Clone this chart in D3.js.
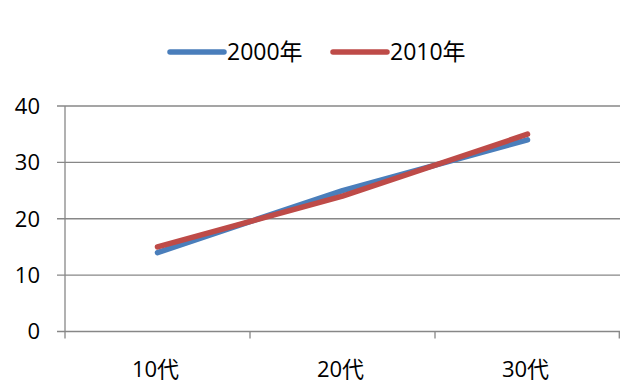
<!DOCTYPE html>
<html>
<head>
<meta charset="utf-8">
<script src="https://cdn.jsdelivr.net/npm/d3@7"></script>
<style>
  body { margin: 0; background: #fff; }
  svg text { font-family: 'Open Sans', 'Noto Sans CJK JP', sans-serif; fill: #000; }
</style>
</head>
<body>
<div class="canvas"></div>
<script>
// chart data
const categories = ['10代', '20代', '30代'];
const seriesNames = ['2000年', '2010年'];
const values2000 = [14, 25, 34];
const values2010 = [15, 24, 35];
const yTicks = [0, 10, 20, 30, 40];

const colors = ['#4a7ebb', '#be4b48'];
const series = [
    { name: seriesNames[0], values: values2000, color: colors[0] },
    { name: seriesNames[1], values: values2010, color: colors[1] }
];

const width = 620;
const height = 385;

const svg = d3.select('.canvas')
    .append('svg')
    .attr('width', width)
    .attr('height', height);

// plot area
const plot = { left: 65, right: 620, top: 106, bottom: 331.5 };

const x = d3.scaleBand()
    .domain(categories)
    .range([plot.left, plot.right])
    .padding(0);

const y = d3.scaleLinear()
    .domain([0, 40])
    .range([plot.bottom, plot.top]);

// gridlines
svg.append('g')
    .selectAll('line')
    .data(yTicks)
    .enter()
    .append('line')
    .attr('x1', plot.left - 8)
    .attr('x2', plot.right)
    .attr('y1', d => y(d))
    .attr('y2', d => y(d))
    .attr('stroke', '#878787')
    .attr('stroke-width', 1.3);

// y axis line
svg.append('line')
    .attr('x1', plot.left).attr('x2', plot.left)
    .attr('y1', plot.top).attr('y2', plot.bottom + 7)
    .attr('stroke', '#878787')
    .attr('stroke-width', 1.3);

// y tick labels
svg.append('g')
    .selectAll('text')
    .data(yTicks)
    .enter()
    .append('text')
    .attr('x', 40)
    .attr('y', d => y(d))
    .attr('dy', '0.36em')
    .attr('text-anchor', 'end')
    .attr('font-size', 22)
    .text(d => d);

// x axis ticks
const xEdges = categories.map(c => x(c) + x.bandwidth());
svg.append('g')
    .selectAll('line')
    .data(xEdges)
    .enter()
    .append('line')
    .attr('x1', d => Math.min(d, plot.right - 0.7))
    .attr('x2', d => Math.min(d, plot.right - 0.7))
    .attr('y1', plot.bottom)
    .attr('y2', plot.bottom + 7)
    .attr('stroke', '#878787')
    .attr('stroke-width', 1.3);

// x labels
svg.append('g')
    .selectAll('text')
    .data(categories)
    .enter()
    .append('text')
    .attr('x', d => x(d) + x.bandwidth() / 2 - 2)
    .attr('y', 377)
    .attr('text-anchor', 'middle')
    .attr('font-size', 22)
    .text(d => d);

// lines
const line = d3.line()
    .x((d, i) => x(categories[i]) + x.bandwidth() / 2)
    .y(d => y(d));

svg.append('g')
    .selectAll('path')
    .data(series)
    .enter()
    .append('path')
    .attr('d', d => line(d.values))
    .attr('fill', 'none')
    .attr('stroke', d => d.color)
    .attr('stroke-width', 5.5)
    .attr('stroke-linecap', 'round')
    .attr('stroke-linejoin', 'round');

// legend
const legendX = [170, 333];
const legend = svg.append('g')
    .selectAll('g')
    .data(series)
    .enter()
    .append('g')
    .attr('transform', (d, i) => `translate(${legendX[i]}, 52)`);

legend.append('line')
    .attr('x1', 0).attr('x2', 54)
    .attr('y1', 0).attr('y2', 0)
    .attr('stroke', d => d.color)
    .attr('stroke-width', 5.5)
    .attr('stroke-linecap', 'round');

legend.append('text')
    .attr('x', 57)
    .attr('y', 0)
    .attr('dy', '0.36em')
    .attr('font-size', 23)
    .text(d => d.name);
</script>
</body>
</html>
